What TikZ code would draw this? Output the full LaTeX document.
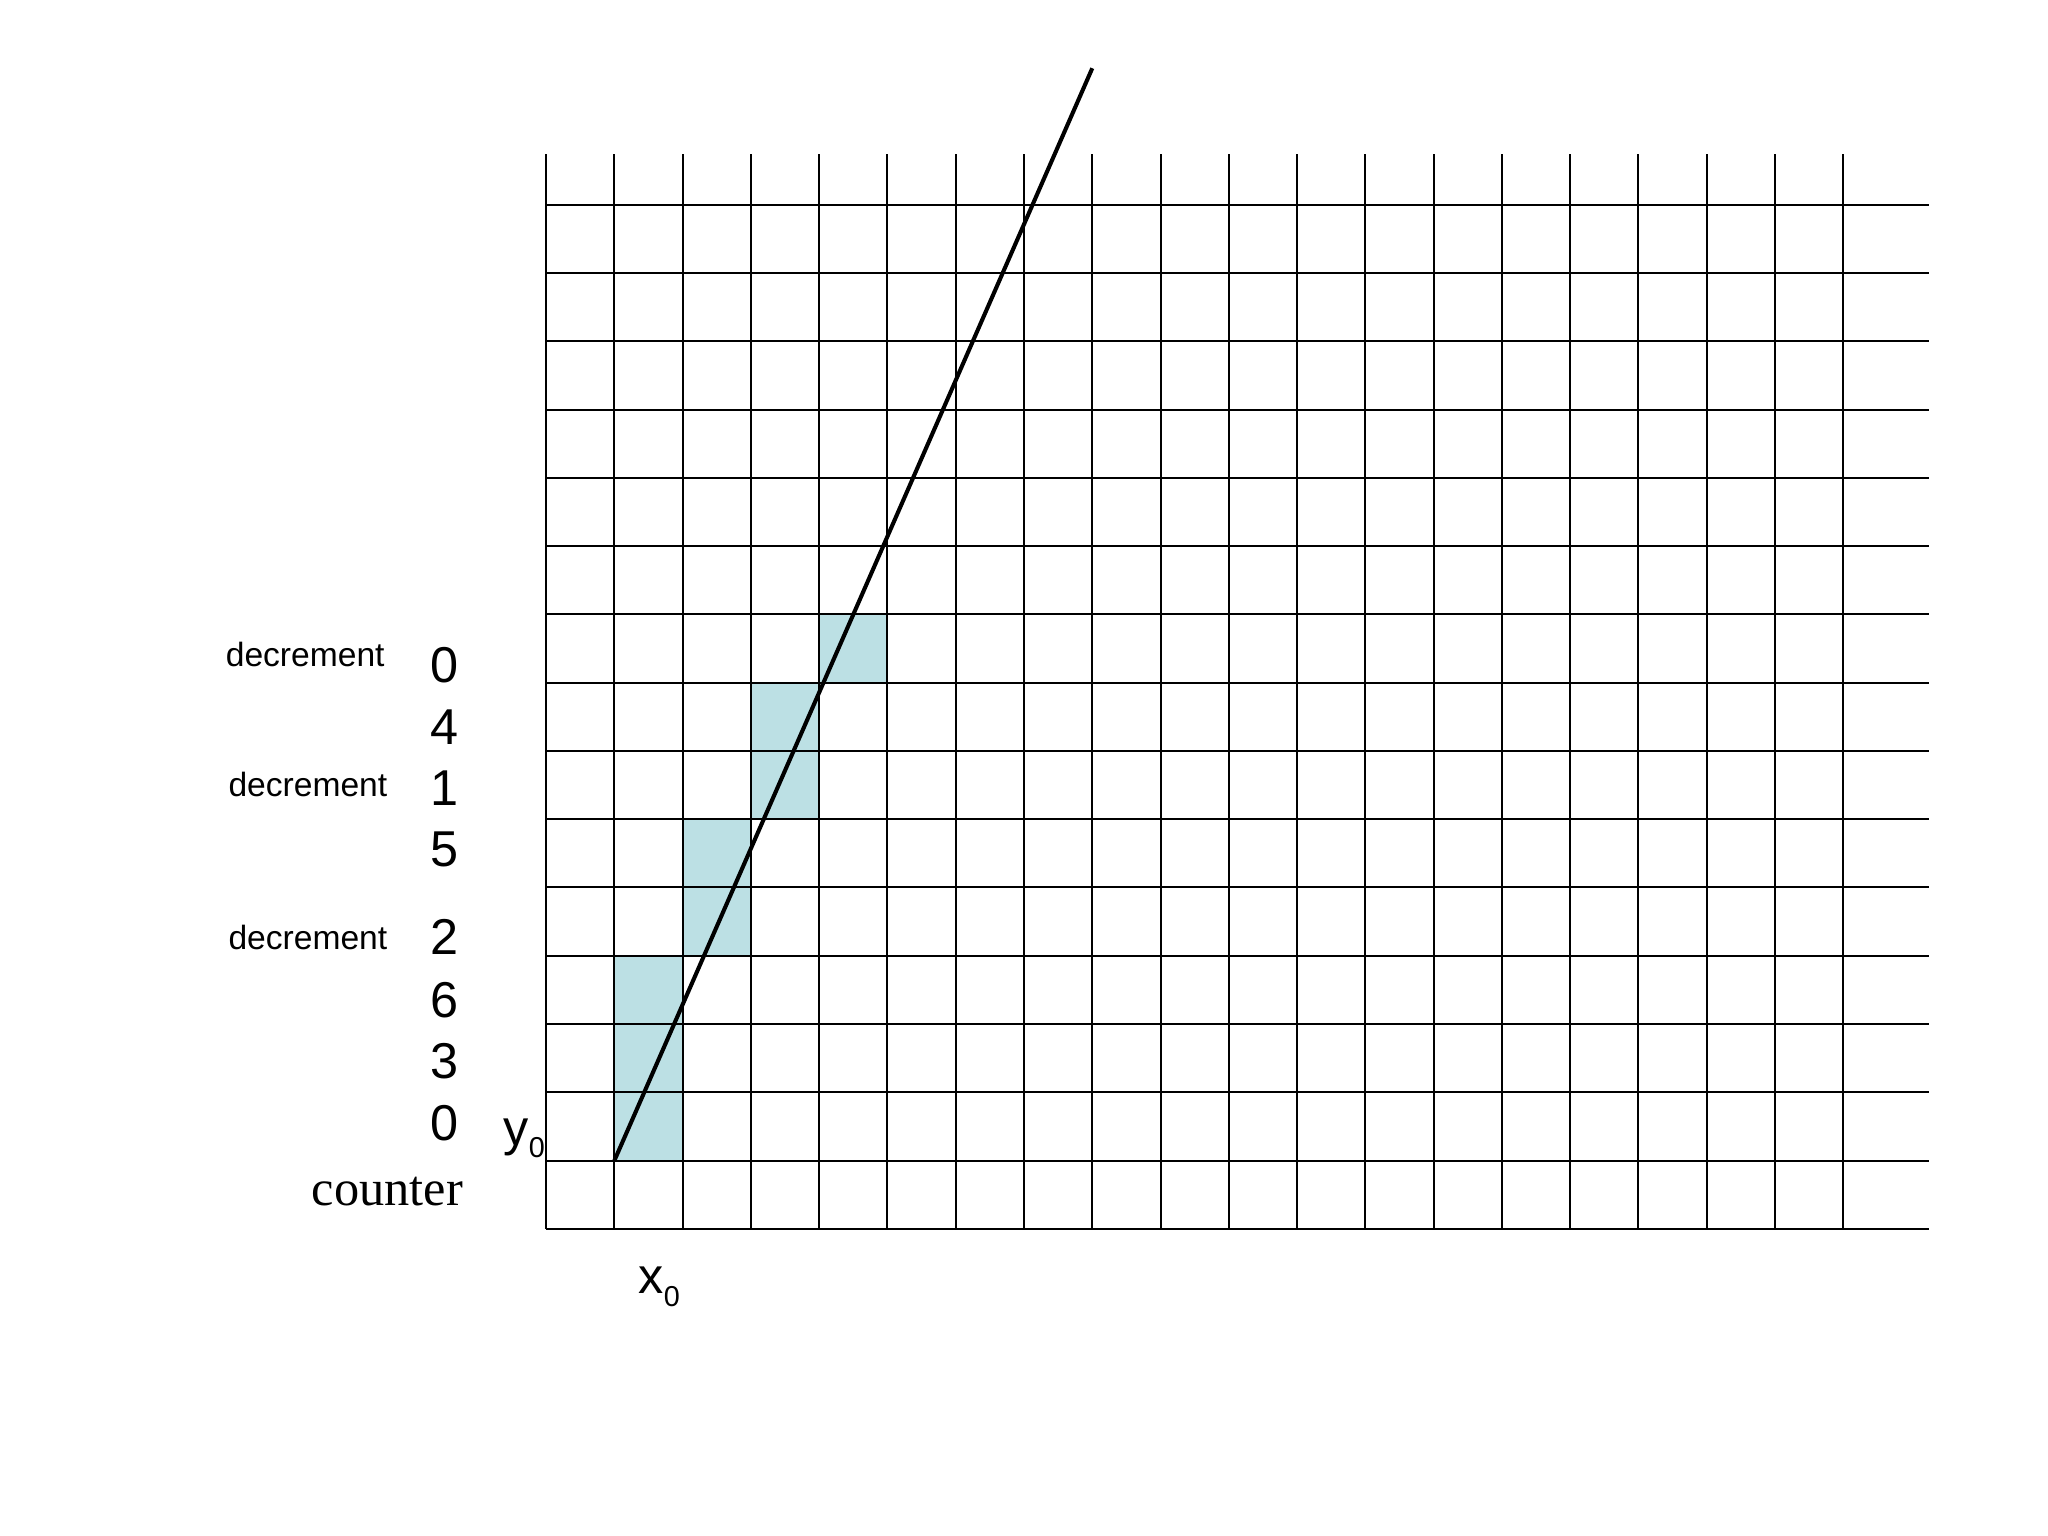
\documentclass[tikz,border=0pt]{standalone}
\usepackage{fontspec}
\setmainfont{Liberation Sans}
\newfontfamily\seriffont{Liberation Serif}
\definecolor{cellfill}{RGB}{188,224,228}
\begin{document}
\begin{tikzpicture}[x=1cm,y=1cm,
  gridline/.style={black, line width=0.85pt},
  pathline/.style={black, line width=1.7pt},
  digit/.style={inner sep=0pt, anchor=center, font=\fontsize{21}{21}\selectfont},
  declabel/.style={inner sep=0pt, anchor=base east, font=\fontsize{14}{14}\selectfont},
  axlabel/.style={inner sep=0pt, anchor=base west, font=\fontsize{21}{21}\selectfont},
  sublabel/.style={font=\fontsize{12}{12}\selectfont}
]
\useasboundingbox (-8,-4.5) rectangle (22,18);
\fill[white] (-8,-4.5) rectangle (22,18);
% shaded pixels
\foreach \i/\j in {1/1,1/2,1/3,2/4,2/5,3/6,3/7,4/8}
  \fill[cellfill] (\i,\j) rectangle ++(1,1);
% grid
\foreach \j in {0,...,15} \draw[gridline] (0,\j) -- (20.25,\j);
\foreach \i in {0,...,19} \draw[gridline] (\i,0) -- (\i,15.75);
% the line
\coordinate (start) at (1,1);
\coordinate (end) at (8,17);
\draw[pathline] (start) -- (end);
% counter values
\node[digit] (d1) at (-1.49,8.25) {0};
\node[digit] (d2) at (-1.49,7.35) {4};
\node[digit] (d3) at (-1.49,6.45) {1};
\node[digit] (d4) at (-1.49,5.55) {5};
\node[digit] (d5) at (-1.49,4.27) {2};
\node[digit] (d6) at (-1.49,3.35) {6};
\node[digit] (d7) at (-1.49,2.45) {3};
\node[digit] (d8) at (-1.49,1.55) {0};
% decrement labels
\node[declabel] (dec1) at (-2.36,8.24) {decrement};
\node[declabel] (dec2) at (-2.32,6.33) {decrement};
\node[declabel] (dec3) at (-2.32,4.09) {decrement};
% counter
\node[inner sep=0pt, anchor=base east, font=\seriffont\fontsize{21}{21}\selectfont] (counter) at (-1.21,0.34) {counter};
% axis labels
\node[axlabel] (y0) at (-0.63,1.22) {y\raisebox{-5.2pt}{\fontsize{12}{12}\selectfont 0}};
\node[axlabel] (x0) at (1.35,-0.95) {x\raisebox{-5.4pt}{\fontsize{12}{12}\selectfont 0}};
\end{tikzpicture}
\end{document}
